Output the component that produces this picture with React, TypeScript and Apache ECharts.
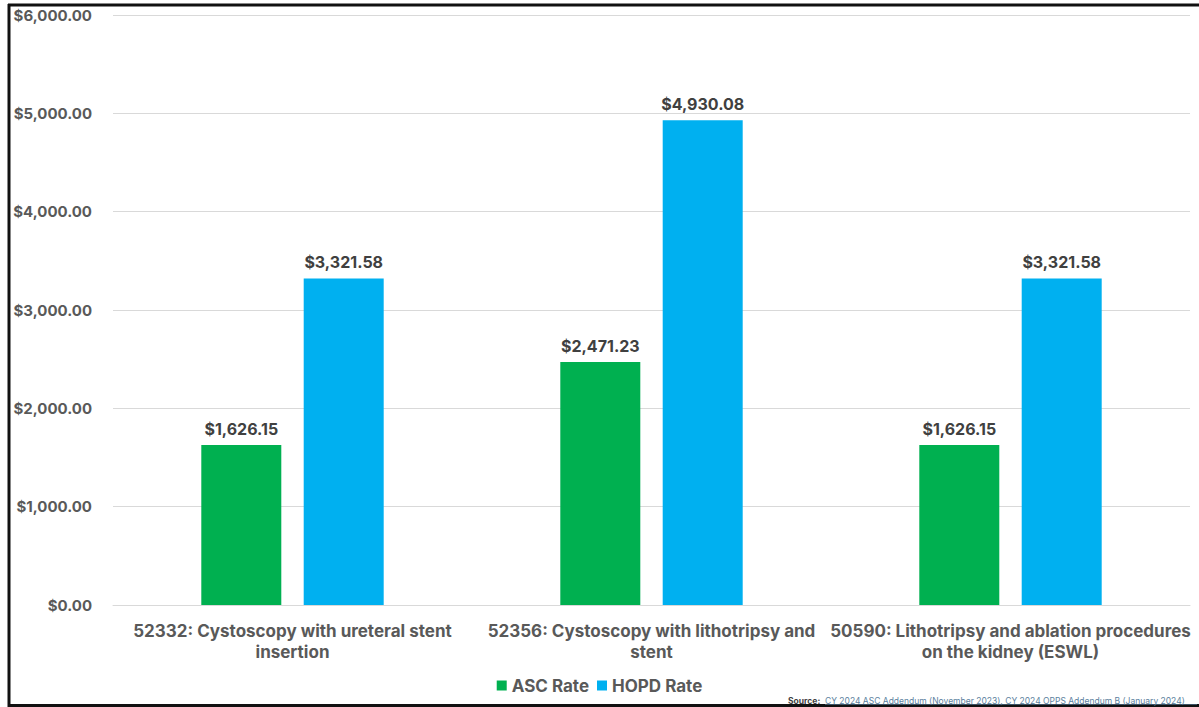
import React, { useEffect, useRef } from "react";
import * as echarts from "echarts";

const categories = [
  "52332: Cystoscopy with ureteral stent\ninsertion",
  "52356: Cystoscopy with lithotripsy and\nstent",
  "50590: Lithotripsy and ablation procedures\non the kidney (ESWL)",
];
const ascRate = [1626.15, 2471.23, 1626.15];
const hopdRate = [3321.58, 4930.08, 3321.58];
const yTicks = { min: 0, max: 6000, interval: 1000 };
const sourceLabel = "Source: ";
const sourceText = "CY 2024 ASC Addendum (November 2023), CY 2024 OPPS Addendum B (January 2024)";

const FONT = "Inter, 'Open Sans', sans-serif";

const money = (v: number) =>
  "$" + v.toLocaleString("en-US", { minimumFractionDigits: 2, maximumFractionDigits: 2 });

export default function App() {
  const ref = useRef<HTMLDivElement>(null);
  useEffect(() => {
    if (!ref.current) return;
    const chart = echarts.init(ref.current, undefined, { renderer: "svg" });
    const labelStyle = {
      show: true,
      position: "top" as const,
      distance: 8,
      formatter: (p: any) => money(p.value),
      fontFamily: FONT,
      fontWeight: "bold" as const,
      fontSize: 16,
      color: "#404040",
    };
    chart.setOption({
      animation: false,
      backgroundColor: "#ffffff",
      textStyle: { fontFamily: FONT },
      grid: { left: 113, right: 9, top: 15, bottom: 102, containLabel: false },
      legend: {
        data: ["ASC Rate", "HOPD Rate"],
        bottom: 8,
        left: "center",
        icon: "rect",
        itemWidth: 10,
        itemHeight: 10,
        itemGap: 8,
        textStyle: { fontFamily: FONT, fontWeight: "bold", fontSize: 17, color: "#595959" },
      },
      xAxis: {
        type: "category",
        data: categories,
        axisLine: { show: true, lineStyle: { color: "#d9d9d9" } },
        axisTick: { show: false },
        axisLabel: {
          interval: 0,
          margin: 15,
          fontFamily: FONT,
          fontWeight: "bold",
          fontSize: 17,
          lineHeight: 21,
          color: "#595959",
          align: "center",
        },
      },
      yAxis: {
        type: "value",
        min: yTicks.min,
        max: yTicks.max,
        interval: yTicks.interval,
        axisLine: { show: false },
        axisTick: { show: false },
        splitLine: { lineStyle: { color: "#d9d9d9", width: 1 } },
        axisLabel: {
          margin: 21,
          fontFamily: FONT,
          fontWeight: "bold",
          fontSize: 15,
          color: "#595959",
          formatter: (v: number) => money(v),
        },
      },
      series: [
        {
          name: "ASC Rate",
          type: "bar",
          data: ascRate,
          barWidth: 80,
          barGap: "28%",
          itemStyle: { color: "#00B050" },
          label: labelStyle,
        },
        {
          name: "HOPD Rate",
          type: "bar",
          data: hopdRate,
          barWidth: 80,
          itemStyle: { color: "#00B0F0" },
          label: labelStyle,
        },
      ],
      graphic: [
        { type: "line", shape: { x1: 9, y1: 4, x2: 9, y2: 707 }, style: { stroke: "#111", lineWidth: 3 } },
        { type: "line", shape: { x1: 8, y1: 5, x2: 1199, y2: 5 }, style: { stroke: "#111", lineWidth: 3 } },
        { type: "line", shape: { x1: 8, y1: 705.5, x2: 1199, y2: 705.5 }, style: { stroke: "#111", lineWidth: 3 } },
        {
          type: "text",
          left: 788,
          top: 696,
          style: { text: sourceLabel, font: "bold 8.5px " + FONT, fill: "#404040" },
        },
        {
          type: "text",
          left: 825,
          top: 696,
          style: { text: sourceText, font: "8.5px " + FONT, fill: "#5b7f9e" },
        },
        { type: "line", shape: { x1: 825, y1: 704.5, x2: 1197, y2: 704.5 }, style: { stroke: "#5b7f9e", lineWidth: 0.6 } },
      ],
    });
    return () => chart.dispose();
  }, []);
  return (
    <div
      ref={ref}
      style={{ position: "fixed", left: 0, top: 0, width: 1199, height: 707 }}
    />
  );
}
